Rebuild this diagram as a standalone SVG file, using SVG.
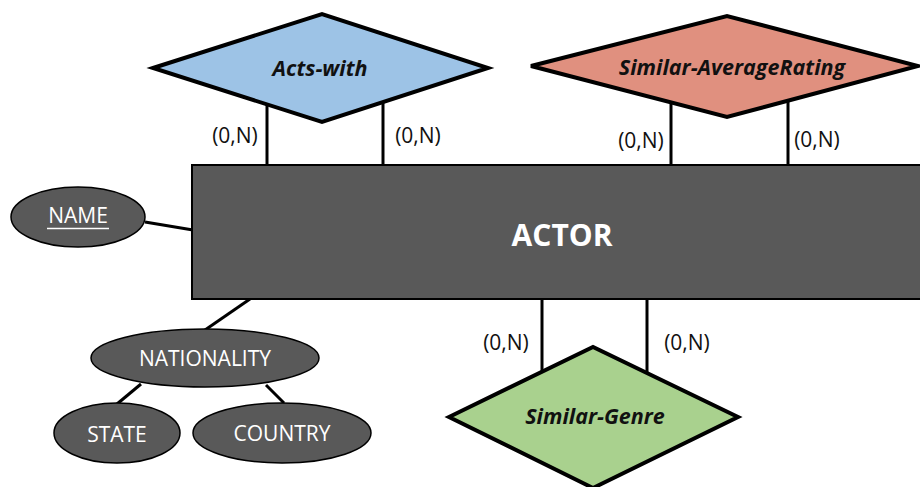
<svg xmlns="http://www.w3.org/2000/svg" width="920" height="487" viewBox="0 0 920 487">
  <style>
    .edge { stroke: #000; stroke-width: 3; fill: none; }
    .rel { stroke: #000; stroke-width: 4; stroke-linejoin: miter; }
    .rel-text { font-family: "Open Sans", "Noto Sans", sans-serif; font-size: 21.5px; font-weight: bold; font-style: italic; fill: #111; text-anchor: middle; dominant-baseline: central; }
    .entity { fill: #595959; stroke: #000; stroke-width: 2; }
    .entity-text { font-family: "Open Sans", "Noto Sans", sans-serif; font-size: 30px; font-weight: bold; fill: #fff; text-anchor: middle; dominant-baseline: central; }
    .attr { fill: #595959; stroke: #000; stroke-width: 1.5; }
    .attr-text { font-family: "Open Sans", "Noto Sans", sans-serif; font-size: 21px; fill: #fff; text-anchor: middle; dominant-baseline: central; }
    .card { font-family: "Open Sans", "Noto Sans", sans-serif; font-size: 21px; fill: #111; text-anchor: middle; dominant-baseline: central; }
  </style>

  <!-- connectors -->
  <g id="connectors">
    <line class="edge" x1="267" y1="105" x2="267" y2="166"/>
    <line class="edge" x1="383" y1="103" x2="383" y2="166"/>
    <line class="edge" x1="671" y1="103" x2="671" y2="166"/>
    <line class="edge" x1="788" y1="101" x2="788" y2="166"/>
    <line class="edge" x1="542" y1="298" x2="542" y2="372"/>
    <line class="edge" x1="647" y1="298" x2="647" y2="374"/>
    <line class="edge" x1="145" y1="222" x2="193" y2="230"/>
    <line class="edge" x1="250" y1="299" x2="205" y2="330"/>
    <line class="edge" x1="141" y1="384" x2="117" y2="404"/>
    <line class="edge" x1="266" y1="385" x2="284" y2="403"/>
  </g>

  <!-- cardinalities -->
  <g id="cardinalities">
    <text class="card" x="235" y="135">(0,N)</text>
    <text class="card" x="418" y="135">(0,N)</text>
    <text class="card" x="641" y="140">(0,N)</text>
    <text class="card" x="817" y="139">(0,N)</text>
    <text class="card" x="506" y="342">(0,N)</text>
    <text class="card" x="687" y="342">(0,N)</text>
  </g>

  <g id="acts-with">
    <polygon class="rel" fill="#9DC3E6" points="153,68 322,14 488,68 322,122"/>
    <text class="rel-text" x="320" y="67">Acts-with</text>
  </g>

  <g id="similar-averagerating">
    <polygon class="rel" fill="#E0907F" points="531,66 727,16 918,66 727,117"/>
    <text class="rel-text" x="732" y="66">Similar-AverageRating</text>
  </g>

  <g id="actor">
    <rect class="entity" x="192" y="165" width="740" height="134"/>
    <text class="entity-text" x="562" y="234">ACTOR</text>
  </g>

  <g id="similar-genre">
    <polygon class="rel" fill="#A9D18E" points="449,417 593,347 738,417 593,488"/>
    <text class="rel-text" x="595" y="415">Similar-Genre</text>
  </g>

  <g id="name">
    <ellipse class="attr" cx="78" cy="217" rx="67" ry="30"/>
    <text class="attr-text" x="78" y="215">NAME</text>
    <line x1="47" y1="228.5" x2="109" y2="228.5" stroke="#fff" stroke-width="1.3"/>
  </g>

  <g id="nationality">
    <ellipse class="attr" cx="205" cy="358" rx="114" ry="29"/>
    <text class="attr-text" x="205" y="358">NATIONALITY</text>
  </g>

  <g id="state">
    <ellipse class="attr" cx="117" cy="433" rx="63" ry="30"/>
    <text class="attr-text" x="117" y="434">STATE</text>
  </g>

  <g id="country">
    <ellipse class="attr" cx="282" cy="433" rx="89" ry="30"/>
    <text class="attr-text" x="282" y="433">COUNTRY</text>
  </g>
</svg>
